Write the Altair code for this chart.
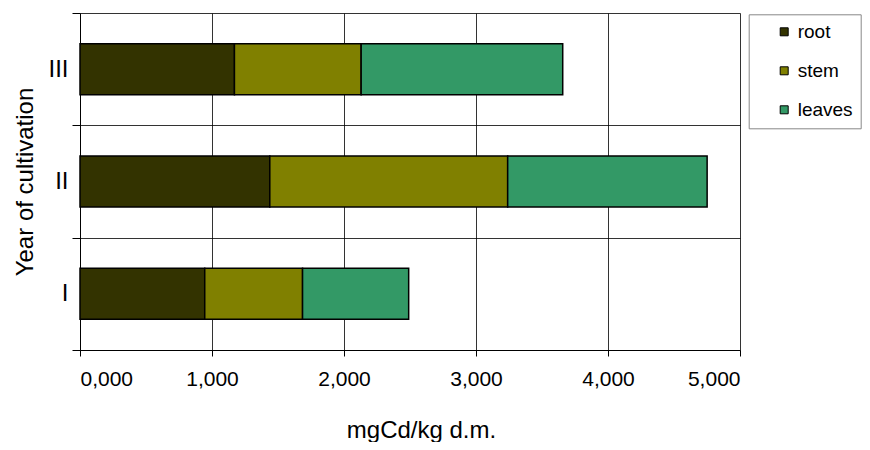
import altair as alt
import pandas as pd

years = ["I", "II", "III"]
parts = ["root", "stem", "leaves"]
root = [0.945, 1.438, 1.170]
stem = [0.741, 1.802, 0.960]
leaves = [0.804, 1.511, 1.527]
x_ticks = [0, 1, 2, 3, 4, 5]
colors = ["#333300", "#808000", "#339966"]

rows = []
for i, y in enumerate(years):
    for k, (p, vals) in enumerate(zip(parts, [root, stem, leaves])):
        rows.append({"year": y, "part": p, "value": vals[i], "order": k})
df = pd.DataFrame(rows)

FONT = "Liberation Sans"

chart = alt.Chart(df).mark_bar(stroke="black", strokeWidth=1.5, size=51).encode(
    x=alt.X(
        "value:Q",
        stack="zero",
        scale=alt.Scale(domain=[0, 5], nice=False),
        axis=alt.Axis(
            values=x_ticks,
            title="mgCd/kg d.m.",
            labelExpr="replace(format(datum.value, '.3f'), '.', ',')",
            grid=True,
            gridColor="#000000",
            gridWidth=1,
            gridOpacity=0.8,
            domainColor="#000000",
            tickColor="#000000",
            tickSize=6,
            labelPadding=12,
            labelFontSize=21,
            labelFont=FONT,
            labelColor="#000000",
            titleFont=FONT,
            titleFontSize=24,
            titleFontWeight="normal",
            titleColor="#000000",
            titleBaseline="alphabetic",
            titleX=341,
            titleY=87,
        ),
    ),
    y=alt.Y(
        "year:N",
        sort=["III", "II", "I"],
        scale=alt.Scale(paddingInner=0, paddingOuter=0),
        axis=alt.Axis(
            title="Year of cultivation",
            tickBand="extent",
            grid=True,
            gridColor="#000000",
            gridWidth=1,
            gridOpacity=0.8,
            domainColor="#000000",
            tickColor="#000000",
            tickSize=8,
            labelPadding=4,
            labelFontSize=24,
            labelFont=FONT,
            labelColor="#000000",
            titleFont=FONT,
            titleFontSize=24,
            titleFontWeight="normal",
            titleColor="#000000",
            titleBaseline="alphabetic",
            titleX=-48,
            titleY=168.5,
        ),
    ),
    color=alt.Color(
        "part:N",
        sort=parts,
        scale=alt.Scale(domain=parts, range=colors),
        legend=alt.Legend(
            title=None,
            orient="none",
            legendX=668.7,
            legendY=1.3,
            strokeColor="#888888",
            fillColor="white",
            padding=8,
            symbolType="square",
            symbolSize=64,
            symbolStrokeColor="black",
            symbolStrokeWidth=1,
            symbolOpacity=1,
            symbolOffset=18,
            labelOffset=4,
            labelFontSize=19,
            labelFont=FONT,
            labelColor="#000000",
            rowPadding=19,
        ),
    ),
    order=alt.Order("order:Q"),
).properties(
    width=660,
    height=337,
    autosize=alt.AutoSizeParams(type="none"),
    padding={"left": 72, "top": 5, "right": 122, "bottom": 92},
).configure_view(stroke=None).configure_axis(labelFontWeight="normal")

chart.save("out.html", embed_options={"renderer": "svg", "actions": False})
